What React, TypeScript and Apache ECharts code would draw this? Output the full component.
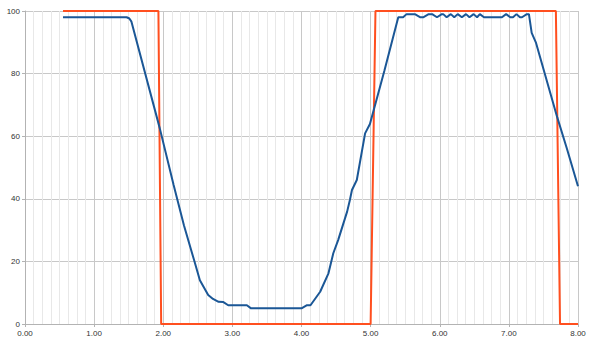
import React, { useEffect, useRef } from "react";
import * as echarts from "echarts";

const blueX = [0.55, 1.47, 1.51, 1.54, 1.95, 2.15, 2.30, 2.45, 2.53, 2.65, 2.72, 2.80, 2.87, 2.94, 3.21, 3.27, 4.00, 4.08, 4.13, 4.27, 4.39, 4.46, 4.53, 4.66, 4.70, 4.73, 4.80, 4.92, 4.99, 5.20, 5.40, 5.47, 5.52, 5.64, 5.72, 5.76, 5.84, 5.89, 5.96, 6.03, 6.05, 6.10, 6.16, 6.21, 6.26, 6.32, 6.38, 6.43, 6.49, 6.54, 6.58, 6.64, 6.90, 6.96, 7.02, 7.06, 7.11, 7.16, 7.19, 7.26, 7.29, 7.33, 7.39, 7.70, 7.84, 8.00];
const blueY = [98, 98, 97.6, 96.6, 62.5, 44.4, 31.5, 20.1, 14, 9.3, 8, 7.1, 7, 6, 6, 5, 5, 6, 6, 10.3, 16.2, 22.6, 26.8, 35.9, 39.6, 42.8, 46, 60.9, 63.9, 81, 98, 98, 99, 99, 98, 98, 99, 99, 98, 99, 99, 98, 99, 98, 99, 98, 99, 98, 99, 98, 99, 98, 98, 99, 98, 98, 99, 98, 98, 99, 99, 93, 90, 66, 56, 44];

const redX = [0.55, 1.93, 1.97, 5.0, 5.07, 7.68, 7.74, 8.0];
const redY = [100, 100, 0, 0, 100, 100, 0, 0];

const xTicks = [0, 1, 2, 3, 4, 5, 6, 7, 8];
const yTicks = [0, 20, 40, 60, 80, 100];

export default function App() {
  const ref = useRef<HTMLDivElement>(null);
  useEffect(() => {
    document.body.style.margin = "0";
    const chart = echarts.init(ref.current!, null, { renderer: "svg" });
    const axisLabel = { fontSize: 8, color: "#333", fontFamily: "Liberation Sans" };
    chart.setOption({
      animation: false,
      grid: { left: 25, right: 22, top: 11, bottom: 19, containLabel: false },
      xAxis: {
        type: "value",
        min: xTicks[0],
        max: xTicks[xTicks.length - 1],
        interval: 1,
        axisLabel: { ...axisLabel, margin: 5, formatter: (v: number) => v.toFixed(2) },
        axisLine: { show: true, lineStyle: { color: "#b3b3b3", width: 1 } },
        axisTick: { show: true, length: 3, lineStyle: { color: "#b3b3b3" } },
        splitLine: { show: true, lineStyle: { color: "#c8c8c8", width: 1 } },
        minorTick: { show: false, splitNumber: 8 },
        minorSplitLine: { show: true, lineStyle: { color: "#e8e8e8", width: 1 } },
      },
      yAxis: {
        type: "value",
        min: yTicks[0],
        max: yTicks[yTicks.length - 1],
        interval: 20,
        axisLabel: { ...axisLabel, margin: 5 },
        axisLine: { show: true, lineStyle: { color: "#b3b3b3", width: 1 } },
        axisTick: { show: true, length: 3, lineStyle: { color: "#b3b3b3" } },
        splitLine: { show: true, lineStyle: { color: "#c8c8c8", width: 1 } },
      },
      series: [
        {
          type: "line",
          data: redX.map((x, i) => [x, redY[i]]),
          showSymbol: false,
          lineStyle: { color: "#ff4f1f", width: 2 },
          itemStyle: { color: "#ff4f1f" },
          z: 2,
        },
        {
          type: "line",
          data: blueX.map((x, i) => [x, blueY[i]]),
          showSymbol: false,
          lineStyle: { color: "#1b5796", width: 2 },
          itemStyle: { color: "#1b5796" },
          z: 3,
        },
      ],
    });
    return () => chart.dispose();
  }, []);
  return <div ref={ref} style={{ width: 600, height: 343 }} />;
}
